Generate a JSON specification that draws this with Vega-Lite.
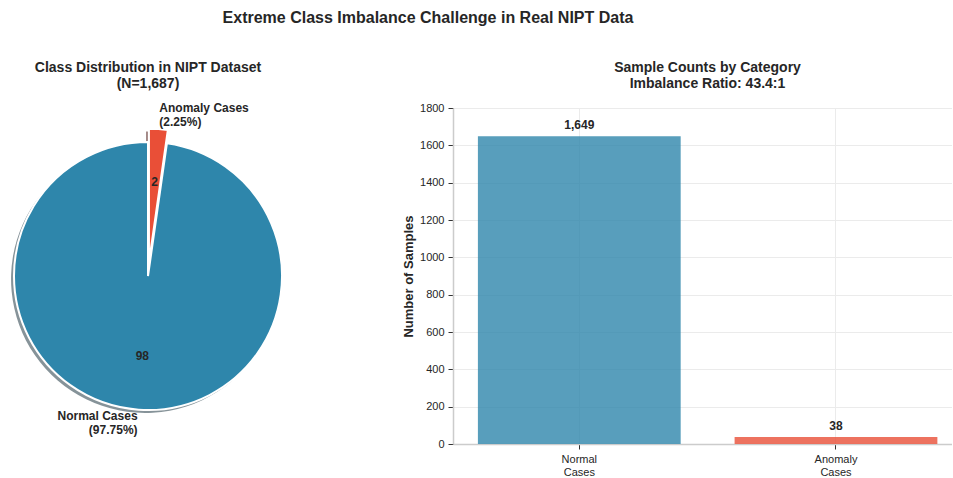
{
  "$schema": "https://vega.github.io/schema/vega-lite/v6.json",
  "background": "white",
  "padding": {"left": 10, "top": 9, "right": 0, "bottom": 0},
  "autosize": {"type": "pad"},
  "config": {
    "font": "Liberation Sans",
    "view": {"stroke": null},
    "title": {"color": "#262626", "fontWeight": "bold"},
    "axis": {
      "domainColor": "#cccccc",
      "domainWidth": 1.5,
      "tickColor": "#333333",
      "tickSize": 5,
      "labelFontSize": 11,
      "labelColor": "#262626",
      "labelPadding": 4,
      "gridColor": "#ebebeb",
      "gridWidth": 1,
      "titleFontSize": 13,
      "titleFontWeight": "bold",
      "titleColor": "#262626",
      "titlePadding": 4
    }
  },
  "title": {
    "text": "Extreme Class Imbalance Challenge in Real NIPT Data",
    "fontSize": 16,
    "anchor": "middle",
    "dx": -53,
    "offset": 35
  },
  "datasets": {
    "classes": [
      {"category": "Normal Cases", "count": 1649},
      {"category": "Anomaly Cases", "count": 38}
    ]
  },
  "spacing": 116,
  "hconcat": [
    {
      "width": 268,
      "height": 336,
      "title": {
        "text": ["Class Distribution in NIPT Dataset", "(N=1,687)"],
        "fontSize": 14,
        "lineHeight": 16,
        "offset": 11
      },
      "data": {"name": "classes"},
      "transform": [
        {
          "stack": "count",
          "groupby": [],
          "sort": [{"field": "category", "order": "ascending"}],
          "offset": "normalize",
          "as": ["t0", "t1"]
        },
        {"calculate": "(datum.t0 + datum.t1) / 2", "as": "mid"},
        {"calculate": "datum.category + '\\n(' + format(datum.t1 - datum.t0, '.2%') + ')'", "as": "label"},
        {"calculate": "format((datum.t1 - datum.t0) * 100, '.0f')", "as": "pct"}
      ],
      "layer": [
        {
          "transform": [{"filter": "datum.category === 'Normal Cases'"}],
          "mark": {"type": "arc", "radius": 134, "color": "rgb(14,40,51)", "opacity": 0.5},
          "encoding": {
            "theta": {"field": "t0", "type": "quantitative", "scale": {"domain": [0, 1], "range": [0, 6.283185307179586]}},
            "theta2": {"field": "t1"},
            "x": {"datum": -0.022, "type": "quantitative", "scale": {"domain": [-1, 1], "nice": false, "zero": false}, "axis": null},
            "y": {"datum": -0.022, "type": "quantitative", "scale": {"domain": [-1.2537, 1.2537], "nice": false, "zero": false}, "axis": null}
          }
        },
        {
          "transform": [{"filter": "datum.category === 'Anomaly Cases'"}],
          "mark": {"type": "arc", "radius": 134, "color": "rgb(71,20,16)", "opacity": 0.5},
          "encoding": {
            "theta": {"field": "t0", "type": "quantitative"},
            "theta2": {"field": "t1"},
            "x": {"datum": -0.0149, "type": "quantitative"},
            "y": {"datum": 0.0778, "type": "quantitative"}
          }
        },
        {
          "transform": [{"filter": "datum.category === 'Normal Cases'"}],
          "mark": {"type": "arc", "radius": 134, "color": "#2E86AB", "stroke": "white", "strokeWidth": 2},
          "encoding": {
            "theta": {"field": "t0", "type": "quantitative"},
            "theta2": {"field": "t1"},
            "x": {"datum": 0, "type": "quantitative"},
            "y": {"datum": 0, "type": "quantitative"}
          }
        },
        {
          "transform": [{"filter": "datum.category === 'Anomaly Cases'"}],
          "mark": {"type": "arc", "radius": 134, "color": "#E94F37", "stroke": "white", "strokeWidth": 2},
          "encoding": {
            "theta": {"field": "t0", "type": "quantitative"},
            "theta2": {"field": "t1"},
            "x": {"datum": 0.00707, "type": "quantitative"},
            "y": {"datum": 0.09975, "type": "quantitative"}
          }
        },
        {
          "transform": [{"filter": "datum.category === 'Normal Cases'"}],
          "mark": {"type": "text", "radius": 147.4, "align": "right", "baseline": "middle", "dy": -7, "lineBreak": "\n", "fontSize": 12, "fontWeight": "bold", "color": "#262626"},
          "encoding": {
            "theta": {"field": "mid", "type": "quantitative", "stack": null},
            "x": {"datum": 0, "type": "quantitative"},
            "y": {"datum": 0, "type": "quantitative"},
            "text": {"field": "label"}
          }
        },
        {
          "transform": [{"filter": "datum.category === 'Anomaly Cases'"}],
          "mark": {"type": "text", "radius": 147.4, "align": "left", "baseline": "middle", "dy": -8, "lineBreak": "\n", "fontSize": 12, "fontWeight": "bold", "color": "#262626"},
          "encoding": {
            "theta": {"field": "mid", "type": "quantitative", "stack": null},
            "x": {"datum": 0.00707, "type": "quantitative"},
            "y": {"datum": 0.09975, "type": "quantitative"},
            "text": {"field": "label"}
          }
        },
        {
          "transform": [{"filter": "datum.category === 'Normal Cases'"}],
          "mark": {"type": "text", "radius": 80.4, "align": "center", "baseline": "middle", "fontSize": 12, "fontWeight": "bold", "color": "#262626"},
          "encoding": {
            "theta": {"field": "mid", "type": "quantitative", "stack": null},
            "x": {"datum": 0, "type": "quantitative"},
            "y": {"datum": 0, "type": "quantitative"},
            "text": {"field": "pct"}
          }
        },
        {
          "transform": [{"filter": "datum.category === 'Anomaly Cases'"}],
          "mark": {"type": "text", "radius": 80.4, "align": "center", "baseline": "middle", "fontSize": 12, "fontWeight": "bold", "color": "#262626"},
          "encoding": {
            "theta": {"field": "mid", "type": "quantitative", "stack": null},
            "x": {"datum": 0.00707, "type": "quantitative"},
            "y": {"datum": 0.09975, "type": "quantitative"},
            "text": {"field": "pct"}
          }
        }
      ]
    },
    {
      "width": 499,
      "height": 336,
      "title": {
        "text": ["Sample Counts by Category", "Imbalance Ratio: 43.4:1"],
        "fontSize": 14,
        "lineHeight": 16,
        "offset": 11,
        "dx": 5
      },
      "data": {"name": "classes"},
      "encoding": {
        "x": {
          "field": "category",
          "type": "nominal",
          "sort": ["Normal Cases", "Anomaly Cases"],
          "scale": {"paddingInner": 0.21, "paddingOuter": 0.077, "align": 0.63},
          "axis": {"title": null, "labelAngle": 0, "labelExpr": "split(datum.label, ' ')", "grid": true, "labelLineHeight": 13}
        },
        "y": {
          "field": "count",
          "type": "quantitative",
          "scale": {"domain": [0, 1800], "nice": false},
          "axis": {"title": "Number of Samples", "format": "d", "values": [0, 200, 400, 600, 800, 1000, 1200, 1400, 1600, 1800], "grid": true}
        }
      },
      "layer": [
        {
          "mark": {"type": "bar", "opacity": 0.8},
          "encoding": {
            "color": {
              "field": "category",
              "type": "nominal",
              "scale": {"domain": ["Normal Cases", "Anomaly Cases"], "range": ["#2E86AB", "#E94F37"]},
              "legend": null
            }
          }
        },
        {
          "mark": {"type": "text", "fontSize": 12, "fontWeight": "bold", "baseline": "bottom", "dy": -4, "color": "#262626"},
          "encoding": {
            "text": {"field": "count", "type": "quantitative", "format": ","}
          }
        }
      ]
    }
  ]
}
